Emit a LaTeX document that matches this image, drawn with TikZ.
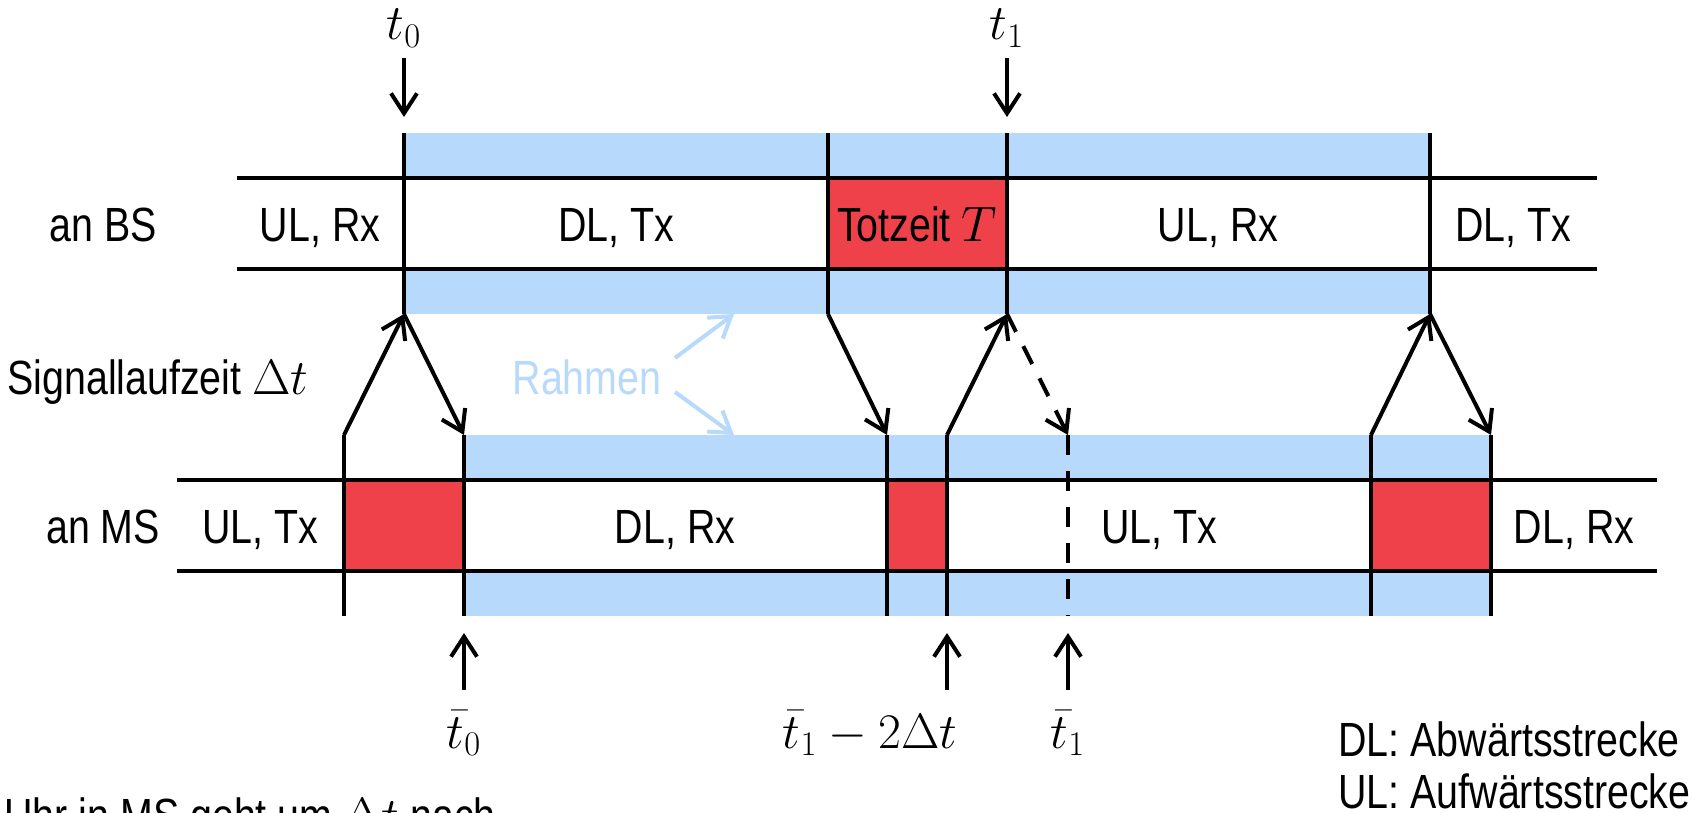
\documentclass[tikz,border=0pt]{standalone}
\usepackage{fontspec}
\setmainfont{Liberation Sans}[FakeStretch=0.82]
\usetikzlibrary{arrows.meta}
\definecolor{rahmenblau}{RGB}{183,217,251}
\definecolor{totrot}{RGB}{239,65,74}
\begin{document}
\begin{tikzpicture}[x=0.5pt,y=0.5pt,yscale=-1,
  every node/.style={inner sep=0pt,font=\fontsize{24}{29}\selectfont},
  achse/.style={line width=2pt},
  pfeil/.style={line width=2pt,-{Straight Barb[length=10pt,width=13pt]}}]
\useasboundingbox (0,0) rectangle (1701,813);
% Rahmen
\fill [rahmenblau] (404,133) rectangle (1430,178);
\fill [rahmenblau] (404,269) rectangle (1430,314);
\fill [rahmenblau] (464,435) rectangle (1491,480);
\fill [rahmenblau] (464,571) rectangle (1491,616);
% Totzeiten
\fill [totrot] (828,178) rectangle (1007,269);
\fill [totrot] (344,480) rectangle (464,571);
\fill [totrot] (887,480) rectangle (947,571);
\fill [totrot] (1371,480) rectangle (1491,571);
% Zeitachsen
\draw [achse] (237,178) -- (1597,178);
\draw [achse] (237,269) -- (1597,269);
\draw [achse] (177,480) -- (1657,480);
\draw [achse] (177,571) -- (1657,571);
\foreach \x in {404,828,1007,1430} \draw [achse] (\x,133) -- (\x,314);
\foreach \x in {344,464,887,947,1371,1491} \draw [achse] (\x,435) -- (\x,616);
\draw [achse,dash pattern=on 10pt off 8pt] (1068,435) -- (1068,616);
% Ecken
\coordinate (bsA) at (404,314);
\coordinate (bsB) at (828,314);
\coordinate (bsC) at (1007,314);
\coordinate (bsD) at (1430,314);
\coordinate (msA) at (344,435);
\coordinate (msB) at (464,435);
\coordinate (msC) at (887,435);
\coordinate (msD) at (947,435);
\coordinate (msE) at (1068,435);
\coordinate (msF) at (1371,435);
\coordinate (msG) at (1491,435);
% Signale
\draw [pfeil] (msA) -- (bsA);
\draw [pfeil] (bsA) -- (msB);
\draw [pfeil] (bsB) -- (msC);
\draw [pfeil] (msD) -- (bsC);
\draw [pfeil,dash pattern=on 10pt off 8pt] (bsC) -- (msE);
\draw [pfeil] (msF) -- (bsD);
\draw [pfeil] (bsD) -- (msG);
% Zeitpunkte
\coordinate (t0a) at (404,58);
\coordinate (t0b) at (404,117);
\coordinate (t1a) at (1007,58);
\coordinate (t1b) at (1007,117);
\draw [pfeil] (t0a) -- (t0b);
\draw [pfeil] (t1a) -- (t1b);
\node (lt0) [anchor=base] at (404,40) {$t_0$};
\node (lt1) [anchor=base] at (1007,40) {$t_1$};
\coordinate (q0a) at (464,690);
\coordinate (q0b) at (464,633);
\coordinate (qda) at (947,690);
\coordinate (qdb) at (947,633);
\coordinate (q1a) at (1068,690);
\coordinate (q1b) at (1068,633);
\draw [pfeil] (q0a) -- (q0b);
\draw [pfeil] (qda) -- (qdb);
\draw [pfeil] (q1a) -- (q1b);
\node (lq0) [anchor=base] at (464,748) {$\bar{t}_0$};
\node (lqd) [anchor=base] at (870,748) {$\bar{t}_1-2\Delta t$};
\node (lq1) [anchor=base] at (1068,748) {$\bar{t}_1$};
% Beschriftung
\node (bs) [anchor=base] at (103,241) {an BS};
\node (bs1) [anchor=base] at (320,241) {UL, Rx};
\node (bs2) [anchor=base] at (616,241) {DL, Tx};
\node (bs3) [anchor=base] at (917,241) {Totzeit $T$};
\node (bs4) [anchor=base] at (1218,241) {UL, Rx};
\node (bs5) [anchor=base] at (1513,241) {DL, Tx};
\node (ms) [anchor=base] at (103,543) {an MS};
\node (ms1) [anchor=base] at (260,543) {UL, Tx};
\node (ms2) [anchor=base] at (675,543) {DL, Rx};
\node (ms3) [anchor=base] at (1159,543) {UL, Tx};
\node (ms4) [anchor=base] at (1574,543) {DL, Rx};
\node (lauf) [anchor=base] at (158,394) {Signallaufzeit $\Delta t$};
\node (rahmen) [anchor=base,text=rahmenblau] at (587,394) {Rahmen};
\coordinate (rA) at (734,314);
\coordinate (rB) at (734,435);
\draw [pfeil,rahmenblau] (675,358) -- (rA);
\draw [pfeil,rahmenblau] (675,392) -- (rB);
\node (dl) [anchor=base west] at (1338,756) {DL: Abwärtsstrecke};
\node (ul) [anchor=base west] at (1338,808) {UL: Aufwärtsstrecke};
\node (uhr) [anchor=base west] at (4,832) {Uhr in MS geht um $\Delta t$ nach};
\end{tikzpicture}
\end{document}
